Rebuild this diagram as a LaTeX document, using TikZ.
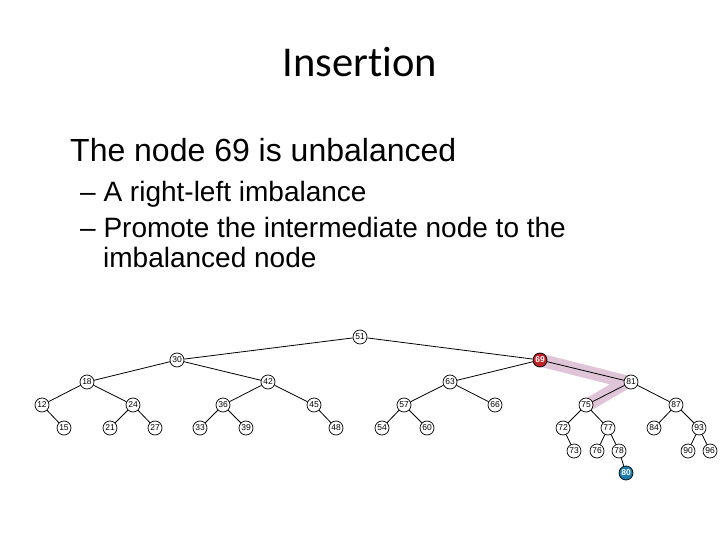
\documentclass[tikz,border=0pt]{standalone}
\usepackage{fontspec}
\setmainfont{Liberation Sans}
\newfontfamily\titlefont[Ligatures=NoCommon]{Carlito}
\definecolor{hl}{RGB}{224,196,216}
\definecolor{redn}{RGB}{190,35,40}
\definecolor{bluen}{RGB}{30,125,175}
\begin{document}
\begin{tikzpicture}[x=1pt,y=-1pt,
  tn/.style={circle,draw=black,line width=0.7pt,fill=white,minimum size=14pt,inner sep=0pt,font=\fontsize{8.5}{9}\selectfont},
  redtn/.style={tn,fill=redn,text=white,font=\fontsize{8.5}{9}\selectfont\bfseries},
  bluetn/.style={tn,fill=bluen,text=white,font=\fontsize{8.5}{9}\selectfont\bfseries},
  edge/.style={line width=0.8pt,black}]
\useasboundingbox (0,0) rectangle (720,540);
\node[font=\titlefont\fontsize{42.5}{48}\selectfont,anchor=base] (title) at (360,77) {Insertion};
\node[font=\fontsize{32}{36}\selectfont,anchor=base west,inner sep=0pt] (l1) at (70,162) {The node 69 is unbalanced};
\node[font=\fontsize{28}{32}\selectfont,anchor=base west,inner sep=0pt] (l2) at (80,202) {– A right-left imbalance};
\node[font=\fontsize{28}{32}\selectfont,anchor=base west,inner sep=0pt] (l3) at (80,237) {– Promote the intermediate node to the};
\node[font=\fontsize{28}{32}\selectfont,anchor=base west,inner sep=0pt] (l4) at (103,267) {imbalanced node};
% coordinates
\coordinate (p51) at (360,337);
\coordinate (p30) at (177,360);
\coordinate (p18) at (87,382);
\coordinate (p42) at (268,382);
\coordinate (p12) at (42,405);
\coordinate (p24) at (133,405);
\coordinate (p36) at (223,405);
\coordinate (p45) at (314,405);
\coordinate (p15) at (64,428);
\coordinate (p21) at (110,428);
\coordinate (p27) at (155,428);
\coordinate (p33) at (200,428);
\coordinate (p39) at (246,428);
\coordinate (p48) at (336,428);
\coordinate (p69) at (540,360);
\coordinate (p63) at (450,382);
\coordinate (p81) at (631,382);
\coordinate (p57) at (404,405);
\coordinate (p66) at (495,405);
\coordinate (p75) at (586,405);
\coordinate (p87) at (676,405);
\coordinate (p54) at (382,428);
\coordinate (p60) at (427,428);
\coordinate (p72) at (563,428);
\coordinate (p77) at (608,428);
\coordinate (p84) at (654,428);
\coordinate (p93) at (699,428);
\coordinate (p73) at (574,451);
\coordinate (p76) at (597,451);
\coordinate (p78) at (619,451);
\coordinate (p90) at (688,451);
\coordinate (p96) at (710,451);
\coordinate (p80) at (626,473);
\coordinate (hlstart) at (536,359);
\coordinate (hlbend) at (627,382);
\coordinate (hlend) at (584,407);
% highlight
\draw[hl,line width=13pt,line join=bevel] (hlstart) -- (hlbend) -- (hlend);
% nodes
\foreach \n in {51,30,18,42,12,24,36,45,15,21,27,33,39,48,63,81,57,66,75,87,54,60,72,77,84,93,73,76,78,90,96}
  \node[tn] (n\n) at (p\n) {\n};
\node[redtn] (n69) at (p69) {69};
\node[bluetn] (n80) at (p80) {80};
% edges
\foreach \a/\b in {51/30,51/69,30/18,30/42,18/12,18/24,42/36,42/45,12/15,24/21,24/27,36/33,36/39,45/48,69/63,69/81,63/57,63/66,57/54,57/60,81/75,81/87,75/72,75/77,87/84,87/93,72/73,77/76,77/78,93/90,93/96,78/80}
  \draw[edge] (n\a) -- (n\b);
\end{tikzpicture}
\end{document}
